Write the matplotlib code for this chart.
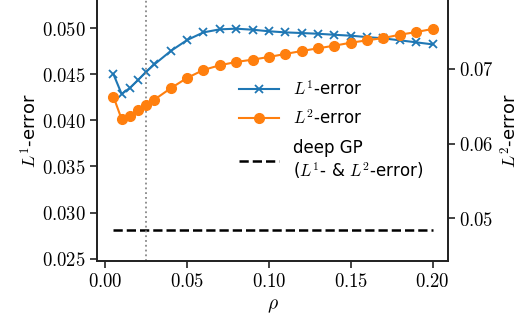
import numpy as np
import matplotlib.pyplot as plt
from matplotlib.lines import Line2D

plt.rcParams['mathtext.fontset'] = 'cm'
plt.rcParams['font.family'] = 'DejaVu Sans'
plt.rcParams['font.size'] = 13

rho = [0.005, 0.01, 0.015, 0.02, 0.025, 0.03, 0.04, 0.05, 0.06, 0.07, 0.08,
       0.09, 0.10, 0.11, 0.12, 0.13, 0.14, 0.15, 0.16, 0.17, 0.18, 0.19, 0.20]
l1_err = [0.0450, 0.04285, 0.0435, 0.04436, 0.04526, 0.04606, 0.04751, 0.0487,
          0.04953, 0.04986, 0.04993, 0.04982, 0.04965, 0.04953, 0.04946, 0.04938,
          0.04927, 0.04917, 0.04902, 0.04888, 0.04867, 0.04845, 0.04823]
l2_err = [0.06629, 0.06327, 0.06371, 0.06447, 0.06514, 0.06589, 0.06742, 0.06880,
          0.06987, 0.07050, 0.07094, 0.07125, 0.07161, 0.07201, 0.07241, 0.07277,
          0.07312, 0.07352, 0.07384, 0.07415, 0.07459, 0.07495, 0.07536]
deep_gp = 0.0281
rho_chosen = 0.025

l1_ticks = [0.025, 0.030, 0.035, 0.040, 0.045, 0.050]
l2_ticks = [0.05, 0.06, 0.07]

fig = plt.figure(figsize=(5.24, 3.24), dpi=100)
ax = fig.add_axes([0.1845, 0.1954, 0.6710, 0.8046])
ax2 = ax.twinx()

ax.plot(rho, l1_err, color='#1f77b4', marker='x', ms=6, mew=1.3, lw=1.5)
ax.plot([rho[0], rho[-1]], [deep_gp, deep_gp], color='black', ls='--', lw=1.8)
ax.axvline(rho_chosen, color='#888888', ls=':', lw=1.3)
ax2.plot(rho, l2_err, color='#ff7f0e', marker='o', ms=7, lw=1.5)

ax.set_xlim(-0.00525, 0.2096)
ax.set_ylim(0.02478, 0.05304)
ax2.set_ylim(0.04432, 0.07924)
ax.set_xticks([0.0, 0.05, 0.10, 0.15, 0.20])
ax.set_xticklabels([f'${v:.2f}$' for v in [0.0, 0.05, 0.10, 0.15, 0.20]])
ax.set_yticks(l1_ticks)
ax.set_yticklabels([f'${v:.3f}$' for v in l1_ticks])
ax2.set_yticks(l2_ticks)
ax2.set_yticklabels([f'${v:.2f}$' for v in l2_ticks])

for a in (ax, ax2):
    a.spines['top'].set_visible(False)
    for s in a.spines.values():
        s.set_linewidth(1.25)
        s.set_color('#222222')
    a.tick_params(length=5, width=1.2, color='#222222', labelsize=13.5, pad=3)

ax.set_xlabel(r'$\rho$', fontsize=14)
ax.set_ylabel(r'$L^1$-error', fontsize=13, labelpad=1)
ax2.set_ylabel(r'$L^2$-error', fontsize=13)

handles = [
    Line2D([], [], color='#1f77b4', marker='x', ms=6, mew=1.3, lw=1.5),
    Line2D([], [], color='#ff7f0e', marker='o', ms=7, lw=1.5),
    Line2D([], [], color='black', ls='--', lw=1.8),
]
labels = [r'$L^1$-error', r'$L^2$-error', 'deep GP\n' + r'($L^1$- & $L^2$-error)']
ax2.legend(handles, labels, frameon=False, loc='upper left',
           bbox_to_anchor=(0.428, 0.80), bbox_transform=fig.transFigure,
           fontsize=12, handlelength=2.4, labelspacing=0.65, handletextpad=0.8)

fig.savefig('out.png', dpi=100)
